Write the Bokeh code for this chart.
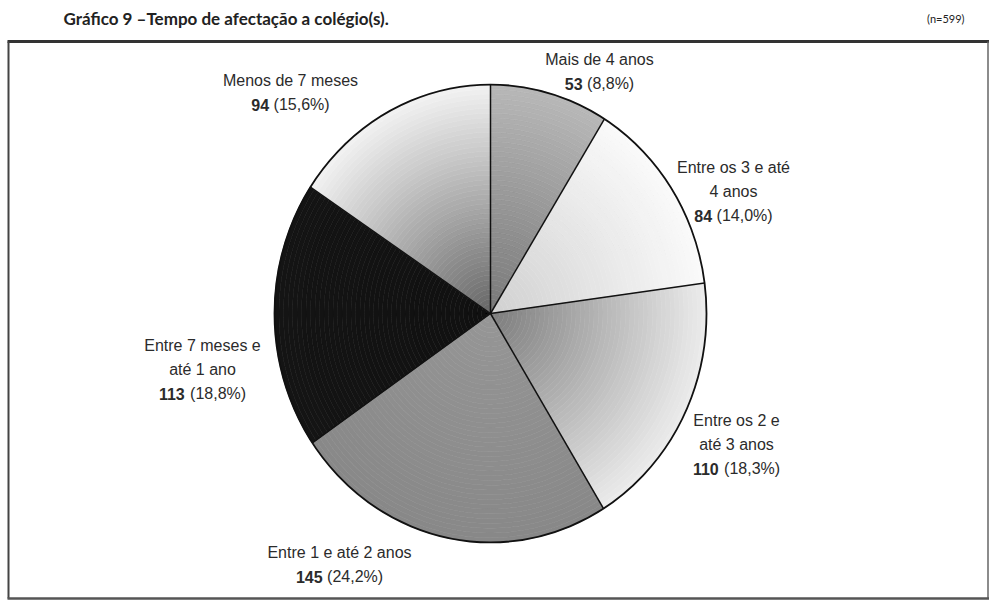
import numpy as np
from bokeh.plotting import figure
from bokeh.models import Range1d
from bokeh.core.properties import value
from bokeh.embed import file_html
from bokeh.resources import INLINE

# ---------------- data ----------------
categories = ["Mais de 4 anos", "Entre os 3 e até 4 anos", "Entre os 2 e até 3 anos",
              "Entre 1 e até 2 anos", "Entre 7 meses e até 1 ano", "Menos de 7 meses"]
label_lines = [["Mais de 4 anos"], ["Entre os 3 e até", "4 anos"], ["Entre os 2 e", "até 3 anos"],
               ["Entre 1 e até 2 anos"], ["Entre 7 meses e", "até 1 ano"], ["Menos de 7 meses"]]
counts = [53, 84, 110, 145, 113, 94]
pct_labels = ["(8,8%)", "(14,0%)", "(18,3%)", "(24,2%)", "(18,8%)", "(15,6%)"]
title_text = "Gráfico 9 –Tempo de afectação a colégio(s)."
n_text = "(n=599)"

# ---------------- styles / layout ----------------
W, H = 989, 600
CX, CY, RX, RY = 490, 313, 216, 229
# gray shade (inner, outer) per slice
shades = [(0x78, 0xb8), (0xd0, 0xfa), (0x7c, 0xec), (0x96, 0x88), (0x10, 0x14), (0x66, 0xf2)]
label_pos = [(599, 59), (733, 167), (736, 420), (339, 552), (202, 345), (290, 80)]
LINE_H = 24
FS = 16
FONT = "Liberation Sans"
TXT = "#2b2b2b"

cw = {"0": .556, "1": .556, "2": .556, "3": .556, "4": .556, "5": .556, "6": .556,
      "7": .556, "8": .556, "9": .556, " ": .278, "(": .333, ")": .333, ",": .278, "%": .889}


def tw(s):
    return sum(cw.get(c, .556) for c in s) * FS


p = figure(width=W, height=H, x_range=Range1d(0, W), y_range=Range1d(H, 0),
           output_backend="svg", toolbar_location=None,
           x_axis_location=None, y_axis_location=None, min_border=0)
p.grid.visible = False
p.outline_line_color = None
p.background_fill_color = "white"
p.border_fill_color = "white"

# frame box
p.segment(x0=[7], y0=[41], x1=[989], y1=[41], line_color="#333333", line_width=3)
p.segment(x0=[8], y0=[41], x1=[8], y1=[598], line_color="#444444", line_width=2)
p.segment(x0=[987.5], y0=[41], x1=[987.5], y1=[598], line_color="#666666", line_width=1.5)
p.segment(x0=[7], y0=[598], x1=[989], y1=[598], line_color="#555555", line_width=2.5)

# titles
p.text(x=[63], y=[18], text=[title_text], text_font=value("Lato"), text_font_style="bold",
       text_font_size="17px", text_color="#222222", text_baseline="middle", text_align="left")
p.text(x=[964], y=[18], text=[n_text], text_font=value("Lato"),
       text_font_size="11px", text_color="#222222", text_baseline="middle", text_align="right")

# pie
vals = np.array(counts, dtype=float)
cum = np.concatenate([[0], np.cumsum(vals)]) / vals.sum() * 2 * np.pi
NB = 48
xs, ys, cols = [], [], []
for i in range(len(vals)):
    t = np.linspace(cum[i], cum[i + 1], 60)
    gi, go = shades[i]
    for k in range(NB):
        r0, r1 = k / NB, (k + 1) / NB
        ox = CX + RX * r1 * np.sin(t)
        oy = CY - RY * r1 * np.cos(t)
        ix = CX + RX * r0 * np.sin(t[::-1])
        iy = CY - RY * r0 * np.cos(t[::-1])
        xs.append(np.concatenate([ox, ix]).tolist())
        ys.append(np.concatenate([oy, iy]).tolist())
        g = int(round(gi + (go - gi) * (k + 0.5) / NB))
        cols.append("#%02x%02x%02x" % (g, g, g))
p.patches(xs, ys, fill_color=cols, line_color=cols, line_width=0.6)

bx = CX + RX * np.sin(cum[:-1])
by = CY - RY * np.cos(cum[:-1])
p.segment(x0=[CX] * len(bx), y0=[CY] * len(bx), x1=bx.tolist(), y1=by.tolist(),
          line_color="#111111", line_width=1.5)
p.ellipse(x=[CX], y=[CY], width=[2 * RX], height=[2 * RY], fill_color=None,
          line_color="#111111", line_width=1.8)

# labels
for i, lines in enumerate(label_lines):
    lx, ly = label_pos[i]
    for j, ln in enumerate(lines):
        p.text(x=[lx], y=[ly + j * LINE_H], text=[ln], text_font=value(FONT),
               text_font_size=f"{FS}px", text_color=TXT, text_baseline="middle", text_align="center")
    yy = ly + len(lines) * LINE_H
    num = str(counts[i])
    rest = pct_labels[i]
    total = tw(num) + tw(" ") + tw(rest)
    x0 = lx - total / 2
    p.text(x=[x0], y=[yy], text=[num], text_font=value(FONT), text_font_style="bold",
           text_font_size=f"{FS}px", text_color=TXT, text_baseline="middle", text_align="left")
    p.text(x=[x0 + tw(num) + tw(" ")], y=[yy], text=[rest], text_font=value(FONT),
           text_font_size=f"{FS}px", text_color=TXT, text_baseline="middle", text_align="left")

open("out.html", "w").write(file_html(p, INLINE))
